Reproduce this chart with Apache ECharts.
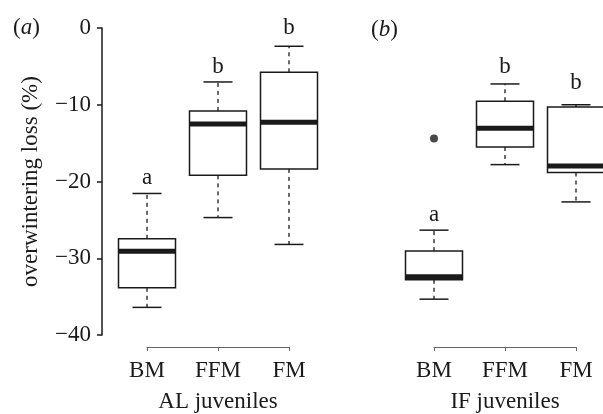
<!DOCTYPE html>
<html>
<head>
<meta charset="utf-8">
<script src="https://cdn.jsdelivr.net/npm/echarts@6/dist/echarts.min.js"></script>
<style>
  html, body { margin: 0; padding: 0; background: #fff; }
  #chart { width: 603px; height: 414px; }
</style>
</head>
<body>
<div id="chart"></div>
<script>
// treatment groups on both panels
const groups = ['BM', 'FFM', 'FM'];

// box stats per group: [lower whisker, Q1, median, Q3, upper whisker]
const alStats = [
  [-36.4, -33.85, -29.1, -27.47, -21.56],
  [-24.7, -19.2, -12.5, -10.8, -7.03],
  [-28.2, -18.36, -12.28, -5.77, -2.38]
];
const ifStats = [
  [-35.33, -32.8, -32.4, -29.07, -26.34],
  [-17.8, -15.5, -13.06, -9.54, -7.29],
  [-22.66, -18.83, -17.97, -10.28, -10.0]
];

// outlying points (group, value)
const ifOutliers = [['BM', -14.4]];

// significance letters and the value they sit at
const alLetters = ['a', 'b', 'b'];
const alLetterAt = [-19.5, -5.1, 0.0];
const ifLetters = ['a', 'b', 'b'];
const ifLetterAt = [-24.4, -5.1, -7.1];

const yTicks = [0, -10, -20, -30, -40];

const FONT = '"Liberation Serif", "DejaVu Serif", serif';
const FS = 23;
const INK = '#1a1a1a';

const chart = echarts.init(document.getElementById('chart'), null, { renderer: 'canvas' });

function boxSeries(gridIdx, stats, letters, letterAt) {
  return {
    type: 'custom',
    xAxisIndex: gridIdx,
    yAxisIndex: gridIdx,
    clip: false,
    data: stats.map((s, i) => [i].concat(s)),
    encode: { x: 0, y: [1, 2, 3, 4, 5] },
    renderItem(params, api) {
      const i = api.value(0);
      const pt = (v) => api.coord([i, v]);
      const lo = pt(api.value(1));
      const q1 = pt(api.value(2));
      const md = pt(api.value(3));
      const q3 = pt(api.value(4));
      const hi = pt(api.value(5));
      const lab = pt(letterAt[params.dataIndex]);
      const cx = md[0];
      const bw = 57;
      const cw = 29;
      const stroke = { stroke: INK, lineWidth: 1.5 };
      const dash = { stroke: INK, lineWidth: 1.3, lineDash: [4, 4] };
      return {
        type: 'group',
        children: [
          { type: 'line', shape: { x1: cx, y1: q3[1], x2: cx, y2: hi[1] }, style: dash },
          { type: 'line', shape: { x1: cx, y1: q1[1], x2: cx, y2: lo[1] }, style: dash },
          { type: 'line', shape: { x1: cx - cw / 2, y1: hi[1], x2: cx + cw / 2, y2: hi[1] }, style: stroke },
          { type: 'line', shape: { x1: cx - cw / 2, y1: lo[1], x2: cx + cw / 2, y2: lo[1] }, style: stroke },
          { type: 'rect', shape: { x: cx - bw / 2, y: q3[1], width: bw, height: q1[1] - q3[1] },
            style: { fill: '#fff', stroke: INK, lineWidth: 1.5 } },
          { type: 'line', shape: { x1: cx - bw / 2, y1: md[1], x2: cx + bw / 2, y2: md[1] },
            style: { stroke: INK, lineWidth: 5 } },
          { type: 'text', style: { text: letters[params.dataIndex], x: cx, y: lab[1],
            align: 'center', verticalAlign: 'middle', fill: INK, font: FS + 'px ' + FONT } }
        ]
      };
    }
  };
}

function xAxis(gridIdx, name) {
  return {
    type: 'category',
    gridIndex: gridIdx,
    data: groups,
    boundaryGap: false,
    offset: 12,
    name: name,
    nameLocation: 'middle',
    nameGap: 43,
    nameTextStyle: { fontFamily: FONT, fontSize: FS, color: INK },
    axisLine: { onZero: false, lineStyle: { color: '#666', width: 1 } },
    axisTick: { length: 4, lineStyle: { color: '#666' } },
    axisLabel: { fontFamily: FONT, fontSize: FS, color: INK, margin: 12 },
    splitLine: { show: false }
  };
}

function yAxis(gridIdx, visible) {
  return {
    type: 'value',
    gridIndex: gridIdx,
    min: -40,
    max: 0,
    interval: 10,
    show: visible,
    offset: 45,
    name: visible ? 'overwintering loss (%)' : '',
    nameLocation: 'middle',
    nameGap: 60,
    nameTextStyle: { fontFamily: FONT, fontSize: FS, color: INK },
    axisLine: { show: true, lineStyle: { color: INK, width: 1.5 } },
    axisTick: { show: true, length: 5, lineStyle: { color: INK, width: 1.5 } },
    axisLabel: {
      fontFamily: FONT, fontSize: FS, color: INK, margin: 11,
      formatter: (v) => (yTicks.includes(v) ? String(v).replace('-', '\u2212') : '')
    },
    splitLine: { show: false }
  };
}

const panelRich = {
  n: { fontFamily: FONT, fontSize: FS, fill: INK },
  i: { fontFamily: FONT, fontSize: FS, fontStyle: 'italic', fill: INK }
};

chart.setOption({
  backgroundColor: '#fff',
  animation: false,
  graphic: [
    { type: 'text', left: 13, top: 16, style: { text: '{n|(}{i|a}{n|)}', rich: panelRich } },
    { type: 'text', left: 371, top: 18, style: { text: '{n|(}{i|b}{n|)}', rich: panelRich } }
  ],
  grid: [
    { left: 147, top: 28, width: 142, height: 307, containLabel: false, outerBoundsMode: 'none' },
    { left: 434, top: 28, width: 142, height: 307, containLabel: false, outerBoundsMode: 'none' }
  ],
  xAxis: [xAxis(0, 'AL juveniles'), xAxis(1, 'IF juveniles')],
  yAxis: [yAxis(0, true), yAxis(1, false)],
  series: [
    boxSeries(0, alStats, alLetters, alLetterAt),
    boxSeries(1, ifStats, ifLetters, ifLetterAt),
    {
      type: 'scatter',
      xAxisIndex: 1,
      yAxisIndex: 1,
      data: ifOutliers,
      symbol: 'circle',
      symbolSize: 8,
      itemStyle: { color: INK },
      z: 5
    }
  ]
});
</script>
</body>
</html>
